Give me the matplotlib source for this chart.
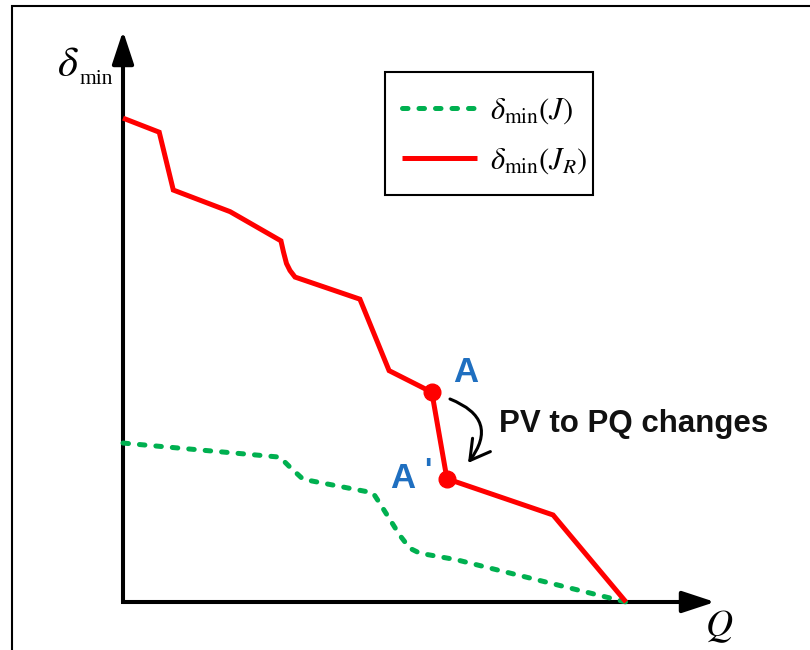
import matplotlib
matplotlib.use('Agg')
import matplotlib.pyplot as plt
from matplotlib.patches import FancyArrowPatch, Rectangle

plt.rcParams['mathtext.fontset'] = 'stix'

# ---- data (Q, delta_min), arbitrary units ----
q_red = [0, 0.72, 1.0, 2.13, 3.14, 3.19, 3.25, 3.32, 3.42, 4.71, 5.29, 6.14, 6.44, 8.55, 10.0]
d_red = [9.62, 9.34, 8.19, 7.76, 7.18, 6.96, 6.73, 6.59, 6.46, 6.02, 4.60, 4.17, 2.45, 1.73, 0.0]
q_green = [0, 3.12, 3.31, 3.58, 4.97, 5.10, 5.50, 5.70, 5.90, 6.63, 10.0]
d_green = [3.16, 2.88, 2.69, 2.44, 2.17, 1.97, 1.33, 1.07, 0.97, 0.84, 0.0]
q_switch = [6.14, 6.44]   # points A and A'
d_switch = [4.17, 2.45]
switch_labels = ['A', "A'"]
legend_labels = [r'$\delta_{\min}(J)$', r'$\delta_{\min}(J_R)$']
annot_text = 'PV to PQ changes'

S = 50.3  # pixels per data unit
fig = plt.figure(figsize=(8.1, 6.5), dpi=100)
ax = fig.add_axes([0, 0, 1, 1])
ax.set_xlim(-123 / S, (810 - 123) / S)
ax.set_ylim((602 - 650) / S, 602 / S)
ax.axis('off')


def px(x, y):
    return ((x - 123) / S, (602 - y) / S)


# outer frame (only left and top visible)
ax.add_patch(Rectangle((12 / 810, -0.1), 1.2, 1.1 - 5.5 / 650, transform=ax.transAxes,
                       fill=False, lw=1.5, edgecolor='black', clip_on=False))

# axes with arrows
xtip = px(715, 602)[0]
ytip = px(123, 31)[1]
ax.plot([0, 0, xtip - 0.5], [ytip - 0.5, 0, 0], color='black', lw=2.9,
        solid_joinstyle='miter', solid_capstyle='butt', zorder=2)
for xy in [(xtip, 0), (0, ytip)]:
    ax.annotate('', xy=xy, xytext=(0, 0),
                arrowprops=dict(arrowstyle='-|>,head_length=1.0,head_width=0.33',
                                mutation_scale=20, lw=2.9, color='black',
                                shrinkA=0, shrinkB=0), zorder=2)

# curves
g, = ax.plot(q_green, d_green, color='#00B050', lw=3.6, ls=(0, (1.1, 2.2)),
             dash_capstyle='round', solid_joinstyle='round', zorder=3)
r, = ax.plot(q_red, d_red, color='#FF0000', lw=3.6, solid_joinstyle='miter',
             solid_capstyle='butt', zorder=4)
ax.plot(q_switch, d_switch, 'o', color='#FF0000', ms=12, zorder=5)

# legend (frame drawn separately for asymmetric padding)
leg_x0, leg_y0 = px(385, 195)
ax.add_patch(Rectangle((leg_x0, leg_y0), 208 / S, 123 / S, fill=False,
                       lw=1.5, edgecolor='black', zorder=6))
leg = ax.legend([g, r], legend_labels, loc='upper left',
                bbox_to_anchor=(385 / 810, 1 - 79 / 650), bbox_transform=fig.transFigure,
                fontsize=22, frameon=False, handlelength=2.45, handletextpad=0.45,
                labelspacing=0.63, borderpad=0.55, borderaxespad=0)

# axis labels
ax.text(*px(57, 76), r'$\delta$', fontsize=31, ha='left', va='baseline')
ax.text(*px(79, 84), 'min', fontsize=15.5, family='Liberation Serif', ha='left', va='baseline')
ax.text(*px(705, 636), r'$Q$', fontsize=27, ha='left', va='baseline')

# point labels
blue = '#1F6FC0'
ax.text(*px(453, 382), switch_labels[0], fontsize=25, color=blue, weight='bold',
        family='Liberation Sans', ha='left', va='baseline')
ax.text(*px(390, 488), switch_labels[1][0], fontsize=25, color=blue, weight='bold',
        family='Liberation Sans', ha='left', va='baseline')
ax.text(*px(424, 480), switch_labels[1][1], fontsize=22, color=blue, weight='bold',
        family='Liberation Sans', ha='left', va='baseline')

# annotation
ax.text(*px(499, 432), annot_text, fontsize=22.5, weight='bold', family='Liberation Sans',
        ha='left', va='baseline', color='#111111')
arr = FancyArrowPatch(px(450, 399), px(468, 463), connectionstyle='arc3,rad=-0.65',
                      arrowstyle='->,head_length=0.7,head_width=0.4', mutation_scale=20,
                      lw=2.2, color='black', shrinkA=0, shrinkB=0)
ax.add_patch(arr)

fig.savefig('out.png', dpi=100)
